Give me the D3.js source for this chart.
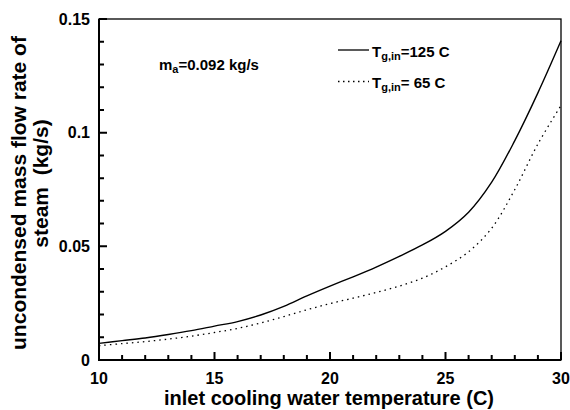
<!DOCTYPE html>
<html>
<head>
<meta charset="utf-8">
<script src="https://cdn.jsdelivr.net/npm/d3@7"></script>
<style>
	body { margin: 0; background: #fff; }
	svg { display: block; font-family: "Liberation Sans", Arial, sans-serif; font-weight: bold; }
</style>
</head>
<body>
<div id="chart"></div>
<script>
// inlet cooling water temperature (C)
const temps = [10, 11, 12, 13, 14, 15, 16, 17, 18, 19, 20, 21, 22, 23, 24, 25, 26, 27, 28, 29, 30]
// uncondensed steam flow (kg/s), Tg,in = 125 C
const flow125 = [0.0073, 0.0085, 0.0097, 0.0112, 0.0129, 0.0149, 0.0169, 0.0198, 0.0236, 0.0282, 0.0325,
	0.0366, 0.0409, 0.0456, 0.0506, 0.0566, 0.0650, 0.0782, 0.0965, 0.1175, 0.1404]
// uncondensed steam flow (kg/s), Tg,in = 65 C
const flow65 = [0.0063, 0.0072, 0.0081, 0.0092, 0.0105, 0.0121, 0.0139, 0.0163, 0.0191, 0.0221, 0.0248,
	0.0272, 0.0297, 0.0325, 0.0360, 0.0410, 0.0476, 0.0580, 0.0750, 0.0950, 0.1120]

const xMajor = [10, 15, 20, 25, 30]
const xMinor = [11, 12, 13, 14, 16, 17, 18, 19, 21, 22, 23, 24, 26, 27, 28, 29]
const yMajor = [0, 0.05, 0.1, 0.15]
const yMinor = [0.01, 0.02, 0.03, 0.04, 0.06, 0.07, 0.08, 0.09, 0.11, 0.12, 0.13, 0.14]
const yLabels = ['0', '0.05', '0.1', '0.15']
const legendSub = ['g,in', 'g,in']
const legendText = ['=125 C', '= 65 C']

const width = 570
const height = 410
const plotLeft = 99, plotRight = 561, plotTop = 19, plotBottom = 360

const svg = d3.select('#chart').append('svg')
	.attr('width', width)
	.attr('height', height)

const x = d3.scaleLinear().domain([10, 30]).range([plotLeft, plotRight])
const y = d3.scaleLinear().domain([0, 0.15]).range([plotBottom, plotTop])

// frame
svg.append('rect')
	.attr('x', plotLeft).attr('y', plotTop)
	.attr('width', plotRight - plotLeft).attr('height', plotBottom - plotTop)
	.attr('fill', 'none').attr('stroke', '#000').attr('stroke-width', 1.3)
svg.append('path')
	.attr('d', `M${plotLeft},${plotTop}V${plotBottom}H${plotRight}`)
	.attr('fill', 'none').attr('stroke', '#000').attr('stroke-width', 2)

// ticks point inward
const tickPath = []
xMinor.forEach(d => tickPath.push(`M${x(d)},${plotBottom}v-5`))
xMajor.forEach(d => tickPath.push(`M${x(d)},${plotBottom}v-8`))
yMinor.forEach(d => tickPath.push(`M${plotLeft},${y(d)}h5`))
yMajor.forEach(d => tickPath.push(`M${plotLeft},${y(d)}h8`))
svg.append('path')
	.attr('d', tickPath.join(''))
	.attr('fill', 'none')
	.attr('stroke', '#000')
	.attr('stroke-width', 2)

// tick labels
svg.append('g').selectAll('text').data(xMajor).enter().append('text')
	.attr('x', d => x(d))
	.attr('y', plotBottom + 23.5)
	.attr('text-anchor', 'middle')
	.attr('font-size', 16)
	.text(d => d)
svg.append('g').selectAll('text').data(yMajor).enter().append('text')
	.attr('x', plotLeft - 9)
	.attr('y', d => y(d) + 5.5)
	.attr('text-anchor', 'end')
	.attr('font-size', 16)
	.text((d, i) => yLabels[i])

const line = d3.line()
	.x((d, i) => x(temps[i]))
	.y(d => y(d))
	.curve(d3.curveCatmullRom.alpha(0.5))

svg.append('path')
	.attr('d', line(flow125))
	.attr('fill', 'none').attr('stroke', '#000').attr('stroke-width', 1.4)
svg.append('path')
	.attr('d', line(flow65))
	.attr('fill', 'none').attr('stroke', '#000').attr('stroke-width', 1.3)
	.attr('stroke-dasharray', '1.5,4')

// legend
const dashes = [null, '1.5,3.5']
const legendY = [50, 81.5]
legendY.forEach((ly, i) => {
	svg.append('line')
		.attr('x1', 338).attr('x2', 369)
		.attr('y1', ly).attr('y2', ly)
		.attr('stroke', '#000').attr('stroke-width', 1.3)
		.attr('stroke-dasharray', dashes[i])
	const t = svg.append('text')
		.attr('x', 372).attr('y', ly + 6.5)
		.attr('font-size', 15)
	t.append('tspan').text('T')
	t.append('tspan').attr('font-size', 11).attr('dy', 3).text(legendSub[i])
	t.append('tspan').attr('dy', -3).text(legendText[i])
})

// annotation
const ann = svg.append('text')
	.attr('x', 159).attr('y', 69.5)
	.attr('font-size', 15)
ann.append('tspan').text('m')
ann.append('tspan').attr('font-size', 11).attr('dy', 3).text('a')
ann.append('tspan').attr('dy', -3).text('=0.092 kg/s')

// axis titles
svg.append('text')
	.attr('x', (plotLeft + plotRight) / 2 - 1)
	.attr('y', 405)
	.attr('text-anchor', 'middle')
	.attr('font-size', 20)
	.text('inlet cooling water temperature (C)')

svg.append('text')
	.attr('transform', 'translate(26,193) rotate(-90)')
	.attr('text-anchor', 'middle')
	.attr('font-size', 21)
	.text('uncondensed mass flow rate of')
svg.append('text')
	.attr('transform', 'translate(48,183.5) rotate(-90)')
	.attr('text-anchor', 'middle')
	.attr('font-size', 21)
	.attr('xml:space', 'preserve')
	.style('white-space', 'pre')
	.text('steam  (kg/s)')
</script>
</body>
</html>
